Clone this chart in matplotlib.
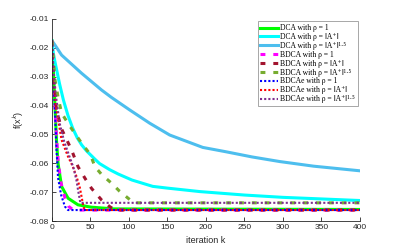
import numpy as np
import matplotlib.pyplot as plt

plt.rcParams['font.family'] = ['Liberation Sans', 'DejaVu Sans']
plt.rcParams['mathtext.fontset'] = 'stix'

# --- data ---
k_dca1 = [0, 2, 4, 6, 8, 12.6, 21, 34, 51, 80, 400]
f_dca1 = [-0.0175, -0.028, -0.040, -0.052, -0.060, -0.068, -0.0721, -0.0744, -0.0752, -0.0758, -0.0760]

k_dca2 = [0, 2, 4, 10, 15, 21, 27, 33, 38.6, 45, 56, 62, 75, 86, 104, 131, 150, 192, 250, 300, 400]
f_dca2 = [-0.0175, -0.022, -0.0248, -0.0325, -0.0381, -0.0435, -0.0478, -0.0512, -0.0536, -0.0557,
          -0.0586, -0.0601, -0.0622, -0.0637, -0.0658, -0.0680, -0.0686, -0.0698, -0.0710, -0.0718,
          -0.0729]

k_dca3 = [0, 4, 12.6, 38.6, 64.5, 77.5, 101, 127, 153, 196, 226, 260, 296, 340, 400]
f_dca3 = [-0.0175, -0.019, -0.0225, -0.0288, -0.0346, -0.0372, -0.0415, -0.0461, -0.0502,
          -0.0545, -0.0560, -0.0578, -0.0594, -0.0610, -0.0626]

k_bdca1 = [0, 2, 4, 6, 8, 12, 17, 22, 28, 400]
f_bdca1 = [-0.0175, -0.028, -0.040, -0.051, -0.059, -0.067, -0.072, -0.075, -0.0762, -0.0762]

k_bdca2 = [0, 3, 6, 12.6, 25.6, 34, 43, 51.5, 64.5, 75, 82, 400]
f_bdca2 = [-0.0175, -0.033, -0.0415, -0.0481, -0.0554, -0.0612, -0.0652, -0.0687, -0.0727,
           -0.0750, -0.0762, -0.0762]

k_bdca3 = [0, 2, 4, 8, 12.6, 23, 38.6, 50, 56, 65, 77.5, 88, 99, 106, 400]
f_bdca3 = [-0.0175, -0.024, -0.031, -0.037, -0.0426, -0.047, -0.053, -0.057, -0.0612,
           -0.0640, -0.0669, -0.0697, -0.0721, -0.0737, -0.0737]

k_bdcae1 = [0, 2, 4, 6, 8, 12, 17, 21, 400]
f_bdcae1 = [-0.0175, -0.029, -0.042, -0.055, -0.065, -0.071, -0.075, -0.0762, -0.0762]

k_bdcae2 = [0, 2, 5, 12.6, 21, 27, 32, 36, 38.6, 41, 43, 400]
f_bdcae2 = [-0.0175, -0.028, -0.040, -0.0519, -0.0577, -0.061, -0.0646, -0.068, -0.0716,
            -0.0750, -0.0762, -0.0762]

k_bdcae3 = [0, 2, 5, 10, 16, 22, 28, 32, 34, 37, 400]
f_bdcae3 = [-0.0175, -0.027, -0.036, -0.046, -0.0525, -0.057, -0.0615, -0.066, -0.0693,
            -0.0737, -0.0737]

labels = ['DCA with ρ = 1',
          'DCA with ρ = ‖A⁺‖',
          'DCA with ρ = ‖A⁺‖¹·⁵',
          'BDCA with ρ = 1',
          'BDCA with ρ = ‖A⁺‖',
          'BDCA with ρ = ‖A⁺‖¹·⁵',
          'BDCAe with ρ = 1',
          'BDCAe with ρ = ‖A⁺‖',
          'BDCAe with ρ = ‖A⁺‖¹·⁵']

fig = plt.figure(figsize=(3.99, 2.49), dpi=100)
ax = fig.add_axes([0.130, 0.1124, 0.772, 0.8113])

dash = (0, (1.6, 2.6))
dot = (0, (1, 1))
ax.plot(k_dca1, f_dca1, color=(0, 1, 0), lw=2.2, label=labels[0])
ax.plot(k_dca2, f_dca2, color=(0, 1, 1), lw=2.2, label=labels[1])
ax.plot(k_dca3, f_dca3, color=(0.301, 0.745, 0.933), lw=2.2, label=labels[2])
ax.plot(k_bdca1, f_bdca1, color=(1, 0, 1), lw=2.2, ls=dash, label=labels[3])
ax.plot(k_bdca2, f_bdca2, color=(0.635, 0.078, 0.184), lw=2.2, ls=dash, label=labels[4])
ax.plot(k_bdca3, f_bdca3, color=(0.466, 0.674, 0.188), lw=2.2, ls=dash, label=labels[5])
ax.plot(k_bdcae1, f_bdcae1, color=(0, 0, 1), lw=1.5, ls=dot, label=labels[6])
ax.plot(k_bdcae2, f_bdcae2, color=(1, 0, 0), lw=1.5, ls=dot, label=labels[7])
ax.plot(k_bdcae3, f_bdcae3, color=(0.494, 0.184, 0.556), lw=1.5, ls=dot, label=labels[8])

ax.set_xlim(0, 400)
ax.set_ylim(-0.08, -0.01)
ax.set_xticks(np.arange(0, 401, 50))
ax.set_yticks(np.arange(-0.08, -0.0099, 0.01))
ax.set_yticklabels(['-0.08', '-0.07', '-0.06', '-0.05', '-0.04', '-0.03', '-0.02', '-0.01'])
ax.tick_params(direction='in', length=3, width=0.6, labelsize=6, colors='#262626', pad=2)
for s in ['top', 'right']:
    ax.spines[s].set_visible(False)
for s in ['left', 'bottom']:
    ax.spines[s].set_color('#262626')
    ax.spines[s].set_linewidth(0.6)

ax.set_xlabel('iteration k', fontsize=6.5, color='#262626', labelpad=4)
ax.set_ylabel(r'f(x$^{\mathsf{k}}$)', fontsize=6.5, color='#262626', labelpad=3)

leg = ax.legend(loc='upper right',
                prop={'family': ['Liberation Serif', 'DejaVu Serif', 'DejaVu Sans'], 'size': 5.5},
                handlelength=2.3, handleheight=0.5, handletextpad=0.3, labelspacing=0.12,
                borderpad=0.35, borderaxespad=0.3, fancybox=False, framealpha=1)
leg.get_frame().set_edgecolor('#999999')
leg.get_frame().set_linewidth(0.6)

fig.savefig('out.png', dpi=100)
